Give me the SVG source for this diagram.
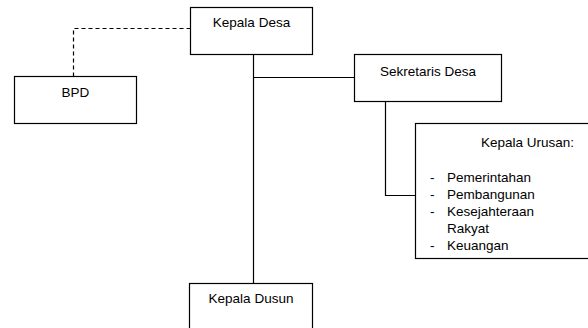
<svg xmlns="http://www.w3.org/2000/svg" width="588" height="328" viewBox="0 0 588 328">
<style>
.box{fill:#fff;stroke:#000;stroke-width:1.2}
.ln{fill:none;stroke:#000;stroke-width:1.2}
.dash{fill:none;stroke:#000;stroke-width:1.2;stroke-dasharray:4 3}
text{font-family:"Liberation Sans",Arial,sans-serif;font-size:13.5px;fill:#000}
.c{text-anchor:middle}
</style>
<rect width="588" height="328" fill="#fff"/>
<g id="connectors">
<path class="dash" d="M190.5,28.5 H73.5 V76"/>
<path class="ln" d="M253.5,54.5 V283"/>
<path class="ln" d="M253.5,77.5 H354.5"/>
<path class="ln" d="M385.5,101 V195.5 H415.5"/>
</g>
<g id="kepala-desa">
<rect class="box" x="190.5" y="7.5" width="122" height="47"/>
<text class="c" x="251.5" y="27">Kepala Desa</text>
</g>
<g id="bpd">
<rect class="box" x="14.5" y="76.5" width="122" height="47"/>
<text class="c" x="75.5" y="97">BPD</text>
</g>
<g id="sekretaris-desa">
<rect class="box" x="354.5" y="54.5" width="147" height="47"/>
<text class="c" x="428" y="76">Sekretaris Desa</text>
</g>
<g id="kepala-urusan">
<rect class="box" x="415.5" y="123.5" width="176" height="135"/>
<text x="481" y="147">Kepala Urusan:</text>
<text x="430" y="182">-</text><text x="447" y="182">Pemerintahan</text>
<text x="430" y="199">-</text><text x="447" y="199">Pembangunan</text>
<text x="430" y="216">-</text><text x="447" y="216">Kesejahteraan</text>
<text x="447" y="233">Rakyat</text>
<text x="430" y="250">-</text><text x="447" y="250">Keuangan</text>
</g>
<g id="kepala-dusun">
<rect class="box" x="189.5" y="283.5" width="123" height="50"/>
<text class="c" x="251" y="303">Kepala Dusun</text>
</g>
</svg>
